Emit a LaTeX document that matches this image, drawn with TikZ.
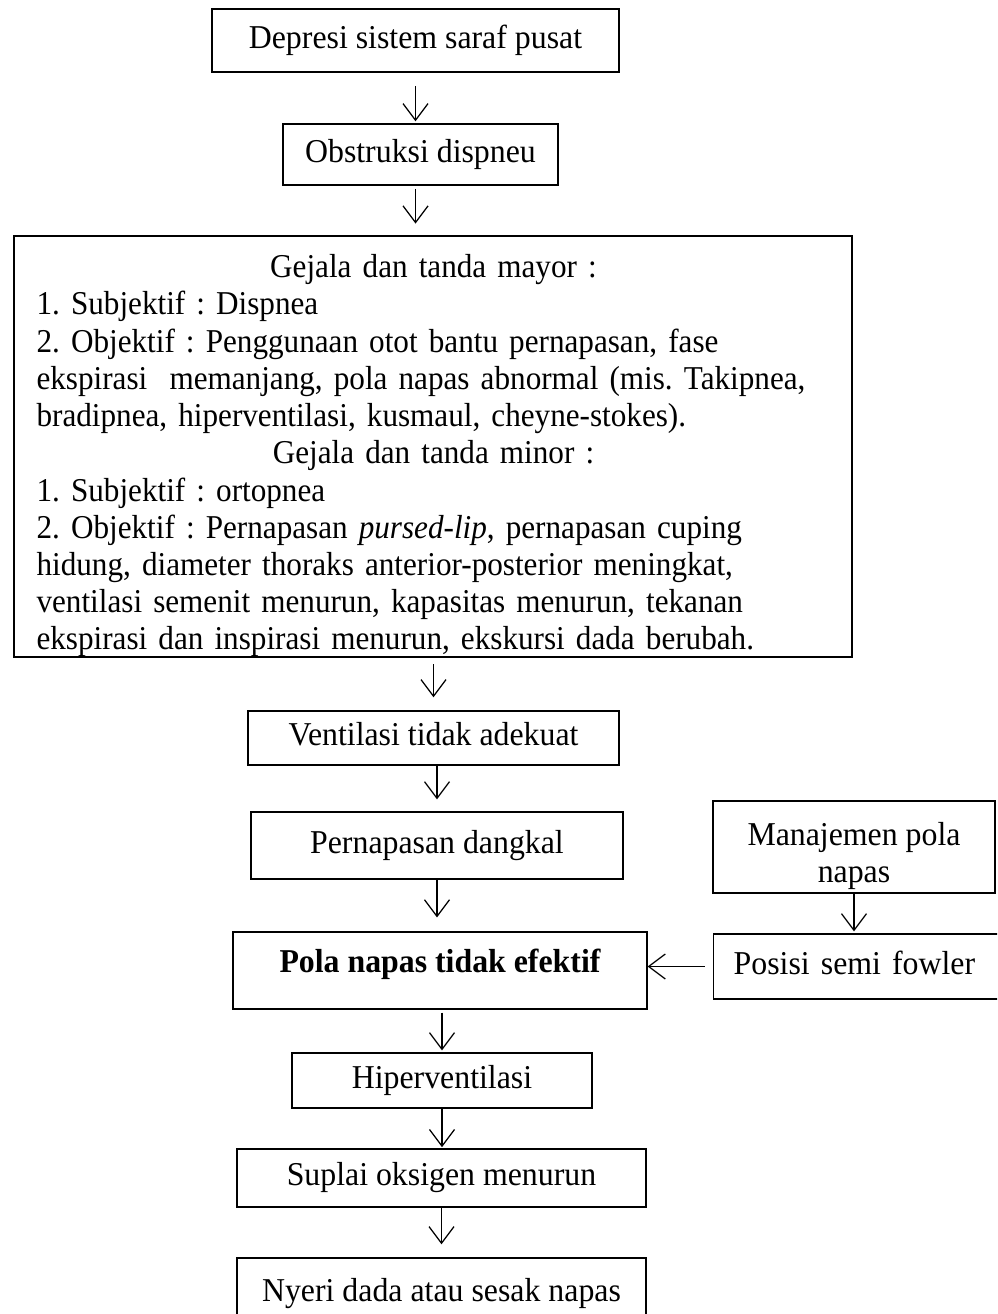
\documentclass[tikz,border=0pt]{standalone}
\usepackage{fontspec}
\setmainfont[FakeStretch=0.955]{Liberation Serif}
\newfontfamily\gejfont[FakeStretch=0.935]{Liberation Serif}
\usepackage{tikz}
\usetikzlibrary{arrows.meta}
\newcommand\flowfont{\fontsize{12pt}{13.4pt}\selectfont\frenchspacing}

\begin{document}
\begin{tikzpicture}[
        x=0.36pt, y=-0.36pt,
        every node/.style={font=\flowfont},
        box/.style={draw, line width=0.5pt, inner sep=0pt, text height=8.3pt, text depth=2.6pt},
        arr/.style={-{Straight Barb[length=6pt, width=9pt]}, line width=0.45pt}
      ]
        \path[use as bounding box] (0,0) rectangle (997,1314);
        \clip (0,0) rectangle (997,1314);

        % main column
        \node[box, minimum width=146.5pt, minimum height=22.7pt] (dep) at (415.5,40.5) {Depresi sistem saraf pusat};
        \node[box, minimum width=99pt, minimum height=22pt] (obs) at (420.5,154.5) {Obstruksi dispneu};
        \node[draw, line width=0.9pt, inner sep=0pt, minimum width=301.7pt, minimum height=151.6pt] (gej) at (433,446.5) {};
        \begin{scope}
          \clip (gej.south west) rectangle (gej.north east);
          \node[anchor=north west, font={\gejfont\flowfont}, text width=292pt, align=left, inner sep=0pt] (gejtxt) at (36,254) {%
            \hyphenpenalty=10000
            \hbox to 285.8pt{\hss Gejala dan tanda mayor :\hss}
            1. Subjektif : Dispnea\\
            2. Objektif : Penggunaan otot bantu pernapasan, fase\\
            ekspirasi\ \ memanjang, pola napas abnormal (mis. Takipnea,\\
            bradipnea, hiperventilasi, kusmaul, cheyne-stokes).\par
            \hbox to 285.8pt{\hss Gejala dan tanda minor :\hss}
            1. Subjektif : ortopnea\\
            2. Objektif : Pernapasan \textit{pursed-lip}, pernapasan cuping\\
            hidung, diameter thoraks anterior-posterior meningkat,\\
            ventilasi semenit menurun, kapasitas menurun, tekanan\\
            ekspirasi dan inspirasi menurun, ekskursi dada berubah.};
        \end{scope}
        \node[box, minimum width=133.6pt, minimum height=19.4pt] (ven) at (433.5,738) {Ventilasi tidak adekuat};
        \node[box, minimum width=133.9pt, minimum height=24.1pt] (per) at (437,845.5) {Pernapasan dangkal};
        \node[box, font=\flowfont\bfseries, text depth=7.2pt, minimum width=149pt, minimum height=27.7pt] (pola) at (440,970.5) {Pola napas tidak efektif};
        \node[box, minimum width=108pt, minimum height=19.8pt] (hip) at (442,1080.5) {Hiperventilasi};
        \node[box, minimum width=147.2pt, minimum height=20.9pt] (sup) at (441.5,1178) {Suplai oksigen menurun};
        \node[box, minimum width=147.2pt, minimum height=25.9pt] (nye) at (441.5,1294) {Nyeri dada atau sesak napas};

        % side column
        \node[draw, line width=0.5pt, inner sep=0pt, minimum width=101.5pt, minimum height=33.1pt] (man) at (854,847) {};
        \begin{scope}
          \clip (man.south west) rectangle (man.north east);
          \node[anchor=north, align=center, inner sep=0pt] (mantxt) at (854,822) {Manajemen pola\\napas};
        \end{scope}
        \node[box, anchor=west, inner xsep=7.2pt, text width=93.6pt, align=left, minimum height=23.4pt] (pos) at (713,966.5) {Posisi semi fowler};

        % arrows
        \draw[arr, shorten <=4.7pt, shorten >=0.7pt] (dep.south) -- (dep.south |- obs.north);
        \draw[arr, shorten <=1.1pt, shorten >=4pt] (obs.south -| dep.south) -- (dep.south |- gej.north);
        \draw[arr, shorten <=2.2pt, shorten >=4.7pt] (gej.south -| ven.north) -- (ven.north);
        \draw[arr, shorten >=4.3pt] (ven.south -| per.north) -- (per.north);
        \draw[arr, shorten >=5pt] (per.south) -- (per.south |- pola.north);
        \draw[arr, shorten <=1.1pt, shorten >=0.7pt] (pola.south -| hip.north) -- (hip.north);
        \draw[arr, shorten >=0.4pt] (hip.south) -- (hip.south |- sup.north);
        \draw[arr, shorten >=4.7pt] (sup.south) -- (nye.north);
        \draw[arr, shorten >=0.7pt] (man.south) -- (man.south |- pos.north);
        \draw[arr, shorten <=2.9pt] (pos.west) -- (pos.west -| pola.east);
      \end{tikzpicture}
\end{document}
